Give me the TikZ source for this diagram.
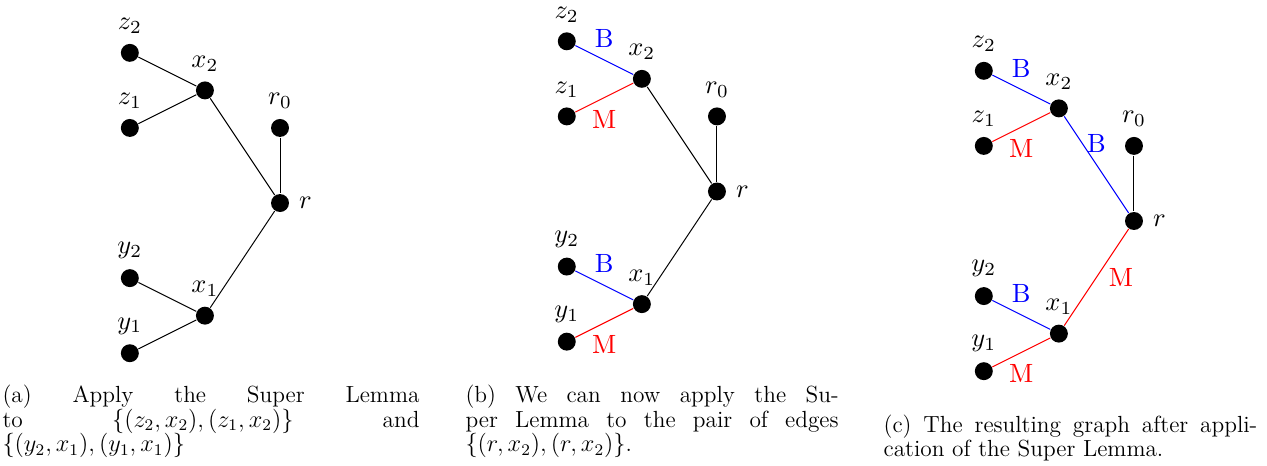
\documentclass[tikz,border=0pt]{standalone}
\usepackage{amsmath,amssymb}
\usetikzlibrary{positioning}

% the eight vertices of one tree, r at the origin
\newcommand{\treenodes}{%
  \node[dot, label=right:$r$] (r) at (0,0) {};
  \node[dot, label=above:$r_0$] (r0) at (0,1) {};
  \node[dot, label=above:$x_2$] (x2) at (-1,1.5) {};
  \node[dot, label=above:$z_2$] (z2) at (-2,2) {};
  \node[dot, label=above:$z_1$] (z1) at (-2,1) {};
  \node[dot, label=above:$x_1$] (x1) at (-1,-1.5) {};
  \node[dot, label=above:$y_2$] (y2) at (-2,-1) {};
  \node[dot, label=above:$y_1$] (y1) at (-2,-2) {};
}

\begin{document}
\begin{tikzpicture}[line width=0.5pt,
  dot/.style={circle, fill, inner sep=0pt, minimum size=6.8pt},
  panel/.style={scale=1.3, transform shape},
  bl/.style={draw=blue},
  rd/.style={draw=red},
  tag/.style={inner sep=4.5pt},
  captext/.style={anchor=north west, inner sep=0pt, align=justify,
    font=\fontsize{11.5}{12}\selectfont}]
\useasboundingbox (0,0) rectangle (21.936,-8.051);

% (a)
\begin{scope}[shift={(4.848,-3.515)}, panel]
\treenodes
\draw (z2) -- (x2);
\draw (z1) -- (x2);
\draw (y2) -- (x1);
\draw (y1) -- (x1);
\draw (x2) -- (r);
\draw (x1) -- (r);
\draw (r0) -- (r);
\end{scope}

% (b)
\begin{scope}[shift={(12.413,-3.315)}, panel]
\treenodes
\draw[bl] (z2) -- node[tag, midway, above, blue] {B} (x2);
\draw[rd] (z1) -- node[tag, midway, below, red] {M} (x2);
\draw[bl] (y2) -- node[tag, midway, above, blue] {B} (x1);
\draw[rd] (y1) -- node[tag, midway, below, red] {M} (x1);
\draw (x2) -- (r);
\draw (x1) -- (r);
\draw (r0) -- (r);
\end{scope}

% (c)
\begin{scope}[shift={(19.633,-3.826)}, panel]
\treenodes
\draw[bl] (z2) -- node[tag, midway, above, blue] {B} (x2);
\draw[rd] (z1) -- node[tag, midway, below, red] {M} (x2);
\draw[bl] (y2) -- node[tag, midway, above, blue] {B} (x1);
\draw[rd] (y1) -- node[tag, midway, below, red] {M} (x1);
\draw[bl] (x2) -- node[tag, midway, above, blue] {B} (r);
\draw[rd] (x1) -- node[tag, midway, right, red] {M} (r);
\draw (r0) -- (r);
\end{scope}

\node[captext, text width=7.22cm] (capa) at (0.035,-6.66)
  {(a) Apply the Super Lemma\linebreak to $\{(z_2,x_2),(z_1,x_2)\}$ and\linebreak $\{(y_2,x_1),(y_1,x_1)\}$};
\node[captext, text width=6.46cm] (capb) at (8.051,-6.66)
  {(b) We can now apply the Su-\linebreak per Lemma to the pair of edges\linebreak $\{(r,x_2),(r,x_2)\}$.};
\node[captext, text width=6.47cm] (capc) at (15.29,-7.17)
  {(c) The resulting graph after appli-\linebreak cation of the Super Lemma.};
\end{tikzpicture}
\end{document}
